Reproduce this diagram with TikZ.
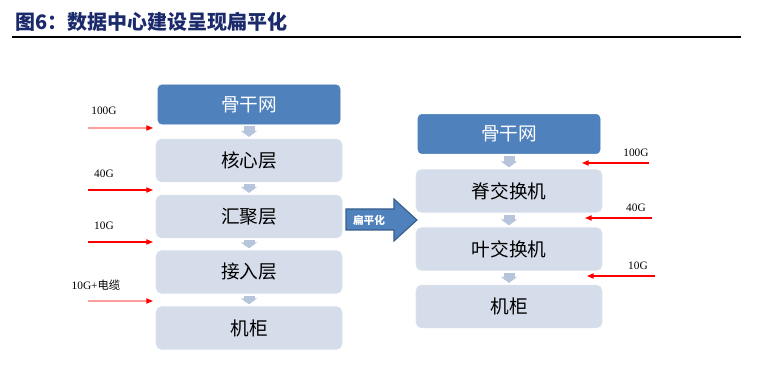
\documentclass[tikz,border=0pt]{standalone}
\usepackage{fontspec}
\setmainfont{Liberation Serif}
\newfontfamily\cjk{Noto Sans CJK SC}
\usetikzlibrary{arrows.meta,positioning,calc}
\definecolor{navyblue}{HTML}{1B2A6B}
\definecolor{topblue}{HTML}{4F81BD}
\definecolor{topline}{HTML}{4A7EBB}
\definecolor{darkblue}{HTML}{385D8A}
\definecolor{layerfill}{HTML}{D5DDEA}
\definecolor{layerline}{HTML}{DCE3EF}
\definecolor{steparrow}{HTML}{B6C4DC}
\definecolor{pinkred}{HTML}{FF9C9C}
\tikzset{
  topblk/.style={rectangle,rounded corners=3pt,draw=topline,fill=topblue,
                 minimum width=136.5pt,minimum height=29.5pt,
                 font=\cjk\fontsize{14}{16}\selectfont,text=white},
  lyr/.style={rectangle,rounded corners=4pt,draw=layerline,fill=layerfill,
              minimum width=139.5pt,minimum height=32pt,
              font=\cjk\fontsize{14}{16}\selectfont,text=black},
  dnarr/.style={line width=8.25pt,color=steparrow,
                -{Triangle[width=12pt,length=4.5pt]}},
  rarr/.style={red,line width=0.8pt,-{Triangle[width=4pt,length=5pt]}},
  parr/.style={pinkred,line width=0.8pt,-{Triangle[width=4pt,length=5pt,color=red]}},
  lbl/.style={font=\fontsize{8.5}{10}\selectfont,text=black},
}

\begin{document}
\begin{tikzpicture}[x=0.75pt,y=-0.75pt]
  \useasboundingbox (0,0) rectangle (757,373);

  % title
  \node[anchor=west,font=\cjk\bfseries\fontsize{15}{17}\selectfont,text=navyblue] (title)
    at (11,22) {图6：数据中心建设呈现扁平化};
  \draw[line width=1pt] (12,37) -- (741,37);

  % left column
  \node[topblk] (lbb)  at (249,104.5) {骨干网};
  \node[lyr]    (core) at (249,160.5) {核心层};
  \node[lyr]    (agg)  at (249,216.5) {汇聚层};
  \node[lyr]    (acc)  at (249,272)   {接入层};
  \node[lyr]    (lrack) at (249,328)  {机柜};

  \draw[dnarr] ([yshift=-1.5pt]lbb.south)  -- ([yshift=1.5pt]core.north);
  \draw[dnarr] ([yshift=-1.5pt]core.south) -- ([yshift=1.5pt]agg.north);
  \draw[dnarr] ([yshift=-1.5pt]agg.south)  -- ([yshift=1.5pt]acc.north);
  \draw[dnarr] ([yshift=-1.5pt]acc.south)  -- ([yshift=1.5pt]lrack.north);

  % right column
  \node[topblk] (rbb)  at (509,134)   {骨干网};
  \node[lyr]    (spine) at (509,191)  {脊交换机};
  \node[lyr]    (leaf) at (509,249)   {叶交换机};
  \node[lyr]    (rrack) at (509,306.5) {机柜};

  \draw[dnarr] ([yshift=-1.5pt]rbb.south)   -- ([yshift=1.5pt]spine.north);
  \draw[dnarr] ([yshift=-1.5pt]spine.south) -- ([yshift=1.5pt]leaf.north);
  \draw[dnarr] ([yshift=-1.5pt]leaf.south)  -- ([yshift=1.5pt]rrack.north);

  % flatten arrow
  \filldraw[fill=topblue,draw=darkblue,line width=0.8pt]
    (346,209) -- (394,209) -- (394,199) -- (417,220) -- (394,241)
    -- (394,230) -- (346,230) -- cycle;
  \node[font=\cjk\bfseries\fontsize{8}{9}\selectfont,text=white] (flat) at (369,220) {扁平化};

  % left speeds
  \coordinate (l1a) at (88,128);  \coordinate (l1b) at (153,128);
  \coordinate (l2a) at (88,190);  \coordinate (l2b) at (153,190);
  \coordinate (l3a) at (88,242);  \coordinate (l3b) at (153,242);
  \coordinate (l4a) at (88,301);  \coordinate (l4b) at (153,301);
  \draw[parr] (l1a) -- (l1b);
  \draw[rarr] (l2a) -- (l2b);
  \draw[rarr] (l3a) -- (l3b);
  \draw[parr] (l4a) -- (l4b);
  \node[lbl] (s100) at (104,111) {100G};
  \node[lbl] (s40)  at (104,174) {40G};
  \node[lbl] (s10)  at (104,226) {10G};
  \node[lbl] (scab) at (96,285)  {10G+{\cjk 电缆}};

  % right speeds
  \coordinate (r1a) at (649,163); \coordinate (r1b) at (582,163);
  \coordinate (r2a) at (652,218); \coordinate (r2b) at (585,218);
  \coordinate (r3a) at (655,276); \coordinate (r3b) at (587,276);
  \draw[rarr] (r1a) -- (r1b);
  \draw[rarr] (r2a) -- (r2b);
  \draw[rarr] (r3a) -- (r3b);
  \node[lbl] (t100) at (636,153) {100G};
  \node[lbl] (t40)  at (636,208) {40G};
  \node[lbl] (t10)  at (638,266) {10G};
\end{tikzpicture}
\end{document}
